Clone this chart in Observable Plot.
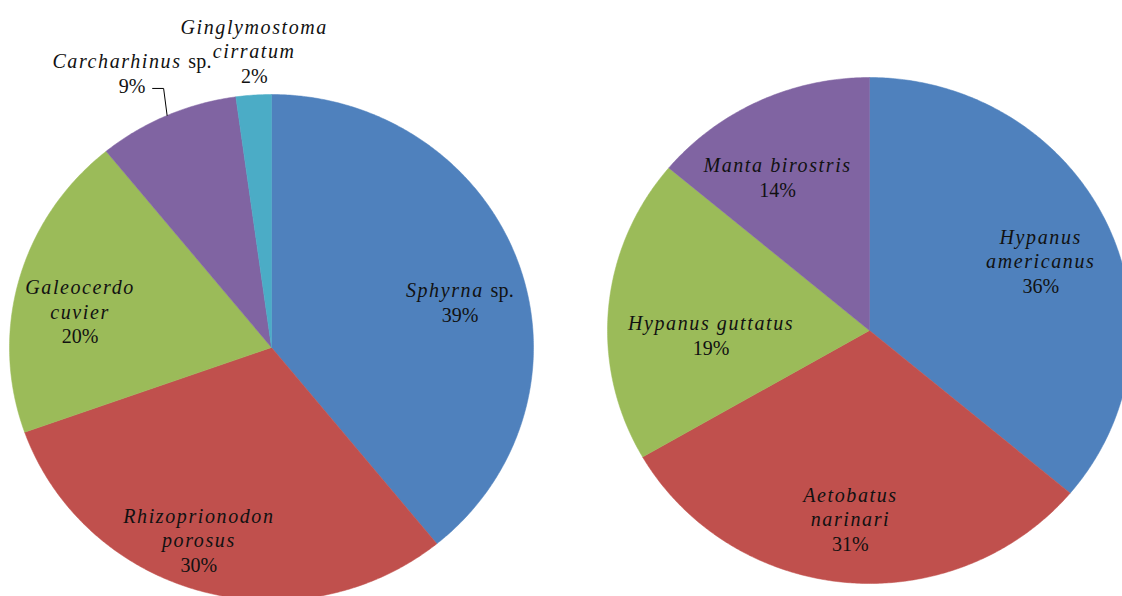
<!DOCTYPE html>
<html><head><meta charset="utf-8">
<script src="https://cdn.jsdelivr.net/npm/d3@7"></script>
<script src="https://cdn.jsdelivr.net/npm/@observablehq/plot@0.6"></script>
<style>body{margin:0;background:#fff;overflow:hidden}</style>
</head><body><div id="chart"></div>
<script>
// ---- data ----
const sharkSpecies = ["Sphyrna sp.", "Rhizoprionodon porosus", "Galeocerdo cuvier", "Carcharhinus sp.", "Ginglymostoma cirratum"];
const sharkCounts = [18, 14, 9, 4, 1];
const raySpecies = ["Hypanus americanus", "Aetobatus narinari", "Hypanus guttatus", "Manta birostris"];
const rayCounts = [13, 11, 7, 5];

// ---- styles / layout ----
const sharkColors = ["#4F81BD", "#C0504D", "#9BBB59", "#8064A2", "#4BACC6"];
const rayColors = ["#4F81BD", "#C0504D", "#9BBB59", "#8064A2"];
const sharkWrap = [false, true, true, false, true];
const rayWrap = [true, true, false, false];
// label radius (fraction of pie radius) and angle nudge (degrees)
const sharkLabelPos = [[0.742, 5.4], [0.808, 4.4], [0.745, -4.4], [1.21, -2.6], [1.176, 0.7]];
const rayLabelPos = [[0.71, 2], [0.746, 0.6], [0.605, -6.5], [0.702, -5]];
const W = 1122, H = 596, RX = 262, RY = 253;
const leftC = [271, 347], rightC = [869, 330];
const toData = ([px, py]) => [(px - leftC[0]) / RX, (leftC[1] - py) / RY];
const cL = toData(leftC), cR = toData(rightC);

function buildPie(names, counts, colors, wrap, labelPos, center, key) {
  const total = d3.sum(counts);
  const arcs = d3.pie().sort(null).value(d => d)(counts);
  const pts = [], labels = [];
  arcs.forEach((a, i) => {
    const k = key + i;
    pts.push({k, x: center[0], y: center[1], c: colors[i]});
    const n = Math.max(2, Math.ceil((a.endAngle - a.startAngle) / (Math.PI / 360)));
    for (let j = 0; j <= n; j++) {
      const t = a.startAngle + (a.endAngle - a.startAngle) * j / n;
      pts.push({k, x: center[0] + Math.sin(t), y: center[1] + Math.cos(t), c: colors[i]});
    }
    pts.push({k, x: center[0], y: center[1], c: colors[i]});
    const mid = (a.startAngle + a.endAngle) / 2 + labelPos[i][1] * Math.PI / 180;
    const r = labelPos[i][0];
    const name = wrap[i] ? names[i].replace(" ", "\n") : names[i];
    const pct = Math.round(counts[i] / total * 100) + "%";
    labels.push({x: center[0] + r * Math.sin(mid), y: center[1] + r * Math.cos(mid), text: name + "\n" + pct,
                 midRaw: (a.startAngle + a.endAngle) / 2});
  });
  return {pts, labels};
}
const shark = buildPie(sharkSpecies, sharkCounts, sharkColors, sharkWrap, sharkLabelPos, cL, "s");
const ray = buildPie(raySpecies, rayCounts, rayColors, rayWrap, rayLabelPos, cR, "r");

// leader line for the small outside label (Carcharhinus)
const cm = shark.labels[3].midRaw;
const endP = [cL[0] + Math.sin(cm), cL[1] + Math.cos(cm)];
const leader = [
  {x: endP[0] - 14.5 / RX, y: endP[1] + 27 / RY},
  {x: endP[0] - 3.5 / RX, y: endP[1] + 27 / RY},
  {x: endP[0], y: endP[1]}
];

const plot = Plot.plot({
  width: W, height: H,
  margin: 0,
  x: {domain: [-leftC[0] / RX, (W - leftC[0]) / RX], axis: null},
  y: {domain: [(leftC[1] - H) / RY, leftC[1] / RY], axis: null},
  color: {type: "identity"},
  style: {background: "#fff"},
  marks: [
    Plot.line([...shark.pts, ...ray.pts], {x: "x", y: "y", z: "k", fill: "c", stroke: "c", strokeWidth: 0.5, curve: "linear"}),
    Plot.line(leader, {x: "x", y: "y", stroke: "#000", strokeWidth: 1}),
    Plot.text([...shark.labels, ...ray.labels], {
      x: "x", y: "y", text: "text", lineAnchor: "middle", lineHeight: 1.22,
      fontSize: 20, fontFamily: "'Liberation Serif', 'Times New Roman', serif", fill: "#111"
    })
  ]
});
document.getElementById("chart").appendChild(plot);

// italicise species names, keep "sp." and percentages upright
const NS = "http://www.w3.org/2000/svg";
plot.querySelectorAll("text").forEach(t => {
  const spans = t.querySelectorAll("tspan");
  const lines = spans.length ? spans : [t];
  lines.forEach(s => {
    const txt = s.textContent;
    if (/%$/.test(txt)) return;
    s.setAttribute("font-style", "italic");
    s.setAttribute("letter-spacing", "1.6");
    if (/ sp\.$/.test(txt)) {
      s.textContent = txt.replace(/ sp\.$/, " ");
      const sp = document.createElementNS(NS, "tspan");
      sp.setAttribute("font-style", "normal");
      sp.setAttribute("letter-spacing", "0.3");
      sp.textContent = "sp.";
      s.appendChild(sp);
    }
  });
});
</script>
</body></html>
